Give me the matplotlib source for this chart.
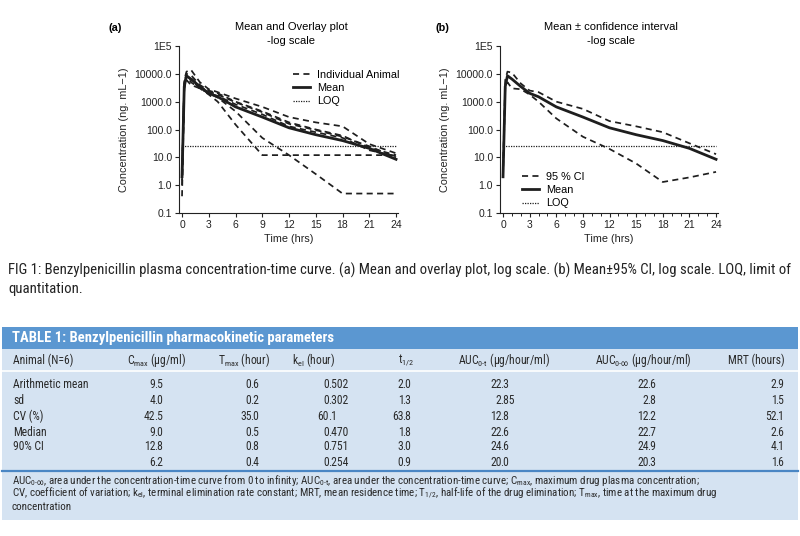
import numpy as np
import matplotlib
matplotlib.use("Agg")
import matplotlib.pyplot as plt
from matplotlib.ticker import NullLocator, MultipleLocator
from matplotlib.patches import Rectangle

plt.rcParams['font.family'] = ['Liberation Sans', 'DejaVu Sans']
plt.rcParams['mathtext.fontset'] = 'custom'
plt.rcParams['mathtext.rm'] = 'Roboto Condensed'
plt.rcParams['mathtext.it'] = 'Roboto Condensed:italic'

# ---- data ----
times = [0, 0.25, 0.5, 1, 2, 3, 4, 6, 9, 12, 15, 18, 21, 24]
animal_a = [0.4, 3000, 8000, 5000, 3000, 1800, 1000, 150, 12, 12, 12, 12, 12, 12]
animal_b = [2, 4000, 9000, 6000, 3000, 2000, 1400, 450, 50, 12, 2.5, 0.5, 0.5, 0.5]
animal_c = [1.5, 6000, 12000, 14000, 5000, 2800, 2200, 1300, 650, 280, 180, 130, 30, 14]
animal_d = [3, 5000, 10000, 9000, 4000, 2500, 2000, 1000, 450, 180, 100, 60, 22, 12]
animal_e = [2.5, 3000, 6000, 4000, 3000, 2000, 1600, 800, 350, 130, 80, 50, 18, 11]
animal_f = [1, 4000, 8000, 7000, 3500, 2300, 1800, 950, 420, 160, 95, 55, 25, 10]
animals = [animal_a, animal_b, animal_c, animal_d, animal_e, animal_f]
mean_conc = [2, 3500, 8500, 6500, 3500, 2000, 1500, 650, 280, 115, 65, 40, 21, 8.5]
ci_upper = [4, 6000, 12000, 11000, 4500, 2500, 2200, 1000, 550, 200, 130, 80, 32, 13]
ci_lower = [2, 3000, 5000, 3000, 2800, 1800, 1000, 250, 55, 20, 6, 1.3, 1.9, 3]
loq = 25

ytick_vals = [0.1, 1, 10, 100, 1000, 10000, 100000]
ytick_labels = ['0.1', '1.0', '10.0', '100.0', '1000.0', '10000.0', '1E5']

# table
col_headers = ['Animal (N=6)', r'C$_{\mathrm{max}}$ (µg/ml)', r'T$_{\mathrm{max}}$ (hour)',
               r'k$_{\mathrm{el}}$ (hour)', r't$_{1/2}$', r'AUC$_{\mathrm{0\text{-}t}}$ (µg/hour/ml)',
               r'AUC$_{\mathrm{0\text{-}\infty}}$ (µg/hour/ml)', 'MRT (hours)']
row_labels = ['Arithmetic mean', 'sd', 'CV (%)', 'Median', '90% CI', '']
cmax = ['9.5', '4.0', '42.5', '9.0', '12.8', '6.2']
tmax = ['0.6', '0.2', '35.0', '0.5', '0.8', '0.4']
kel = ['0.502', '0.302', '60.1', '0.470', '0.751', '0.254']
thalf = ['2.0', '1.3', '63.8', '1.8', '3.0', '0.9']
auc_t = ['22.3', '2.85', '12.8', '22.6', '24.6', '20.0']
auc_inf = ['22.6', '2.8', '12.2', '22.7', '24.9', '20.3']
mrt = ['2.9', '1.5', '52.1', '2.6', '4.1', '1.6']

W, H = 800, 536
fig = plt.figure(figsize=(W / 100, H / 100), dpi=100)


def fx(x):
    return x / W


def fy(y):
    return 1 - y / H


def ptext(x, y, s, **kw):
    fig.text(fx(x), fy(y), s, **kw)


def setup(ax, minor_x):
    ax.set_yscale('log')
    ax.set_ylim(0.1, 1e5)
    ax.set_xlim(-0.34, 24.22)
    ax.set_yticks(ytick_vals)
    ax.set_yticklabels(ytick_labels)
    ax.yaxis.set_minor_locator(NullLocator())
    ax.set_xticks(range(0, 25, 3))
    if minor_x:
        ax.xaxis.set_minor_locator(MultipleLocator(1))
    ax.spines['top'].set_visible(False)
    ax.spines['right'].set_visible(False)
    ax.spines['left'].set_color('#222222')
    ax.spines['bottom'].set_color('#222222')
    ax.tick_params(labelsize=7.5, length=3, width=0.8, pad=2, colors='#222222')
    ax.tick_params(which='minor', length=2, width=0.6)
    ax.set_xlabel('Time (hrs)', fontsize=7.8, labelpad=3, color='#222222')
    ax.set_ylabel('Concentration (ng. mL\u22121)', fontsize=7.8, labelpad=4, color='#222222')


dash = (0, (3.5, 2.5))
line_col = '#1e1e1e'
leg_kw = dict(bbox_transform=fig.transFigure, frameon=False, fontsize=7.8, handlelength=1.6,
              handletextpad=0.6, labelspacing=0.3, borderpad=0, borderaxespad=0)

# ---- panel (a) ----
ax1 = fig.add_axes([fx(179), fy(213), (398 - 179) / W, (213 - 46) / H])
setup(ax1, False)
for i, a in enumerate(animals):
    ax1.plot(times, a, color=line_col, lw=1.25, linestyle=dash,
             label='Individual Animal' if i == 0 else None)
ax1.plot(times, mean_conc, color=line_col, lw=2.0, label='Mean')
ax1.plot([0, 24], [loq, loq], color=line_col, lw=0.9, linestyle=(0, (1, 1)), label='LOQ')
ax1.legend(loc='upper left', bbox_to_anchor=(fx(293), fy(70)), **leg_kw)

ptext(115, 28, '(a)', fontsize=7.8, fontweight='bold', ha='center', va='center')
ptext(291, 27, 'Mean and Overlay plot', fontsize=8, ha='center', va='center')
ptext(291, 41, '-log scale', fontsize=8, ha='center', va='center')

# ---- panel (b) ----
ax2 = fig.add_axes([fx(500), fy(213), (718 - 500) / W, (213 - 46) / H])
setup(ax2, True)
ax2.plot(times, ci_upper, color=line_col, lw=1.25, linestyle=dash, label='95 % CI')
ax2.plot(times, ci_lower, color=line_col, lw=1.25, linestyle=dash)
ax2.plot(times, mean_conc, color=line_col, lw=2.0, label='Mean')
ax2.plot([0, 24], [loq, loq], color=line_col, lw=0.9, linestyle=(0, (1, 1)), label='LOQ')
ax2.legend(loc='upper left', bbox_to_anchor=(fx(522), fy(172)), **leg_kw)

ptext(442, 28, '(b)', fontsize=7.8, fontweight='bold', ha='center', va='center')
ptext(611, 27, 'Mean \u00b1 confidence interval', fontsize=8, ha='center', va='center')
ptext(611, 41, '-log scale', fontsize=8, ha='center', va='center')

# ---- caption ----
cond = ['Roboto Condensed', 'Liberation Sans']
ptext(8, 270, 'FIG 1: Benzylpenicillin plasma concentration-time curve. (a) Mean and overlay plot, '
      'log scale. (b) Mean\u00b195% CI, log scale. LOQ, limit of',
      fontsize=10.6, family=cond, va='center', color='#222222')
ptext(8, 289, 'quantitation.', fontsize=10.6, family=cond, va='center', color='#222222')

# ---- table ----
fig.patches.append(Rectangle((fx(2), fy(520)), (798 - 2) / W, (520 - 349) / H,
                             transform=fig.transFigure, facecolor='#d5e3f2', edgecolor='none'))
fig.patches.append(Rectangle((fx(2), fy(349)), (798 - 2) / W, (349 - 327) / H,
                             transform=fig.transFigure, facecolor='#5b97d1', edgecolor='none'))
fig.lines.append(plt.Line2D([fx(2), fx(798)], [fy(371), fy(371)], transform=fig.transFigure,
                            color='white', lw=1.2))
fig.lines.append(plt.Line2D([fx(2), fx(798)], [fy(471), fy(471)], transform=fig.transFigure,
                            color='#4a86c4', lw=1.6))

tcol = '#2a2a2a'
ptext(12, 338, 'TABLE 1: Benzylpenicillin pharmacokinetic parameters', fontsize=10.5,
      family=cond, fontweight='bold', color='white', va='center')

fs_tab = 8.4
header_x = [13, 157, 244, 314, 406, 504, 643, 756]
for j, h in enumerate(col_headers):
    ptext(header_x[j], 360, h, fontsize=fs_tab, family=cond, color=tcol, va='center',
          ha='left' if j == 0 else 'center')

row_y = [385, 400, 416, 432, 447, 462]
dec_x = [155.5, 251.5, 329, 403.5, 501.5, 648.5, 776.5]
cols = [cmax, tmax, kel, thalf, auc_t, auc_inf, mrt]
for i, y in enumerate(row_y):
    ptext(13, y, row_labels[i], fontsize=fs_tab, family=cond, color=tcol, va='center')
    for j, col in enumerate(cols):
        whole, frac = col[i].split('.')
        ptext(dec_x[j], y, whole, fontsize=fs_tab, family=cond, color=tcol, va='center', ha='right')
        ptext(dec_x[j] - 1, y, '.' + frac, fontsize=fs_tab, family=cond, color=tcol, va='center',
              ha='left')

foot = [r'AUC$_{\mathrm{0\text{-}\infty}}$, area under the concentration-time curve from 0 to infinity; '
        r'AUC$_{\mathrm{0\text{-}t}}$, area under the concentration-time curve; C$_{\mathrm{max}}$, '
        'maximum drug plasma concentration;',
        r'CV, coefficient of variation; k$_{\mathrm{el}}$, terminal elimination rate constant; MRT, '
        r'mean residence time; T$_{1/2}$, half-life of the drug elimination; T$_{\mathrm{max}}$, '
        'time at the maximum drug',
        'concentration']
for i, s in enumerate(foot):
    ptext(12, 480 + 13.5 * i, s, fontsize=7.9, family=cond, color=tcol, va='center')

fig.savefig('out.png', dpi=100)
